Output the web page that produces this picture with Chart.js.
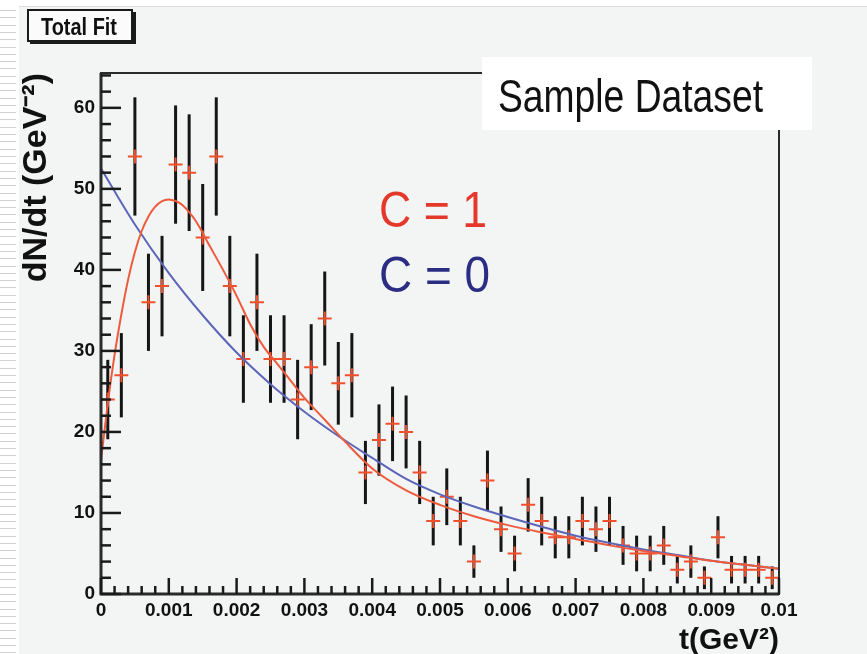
<!DOCTYPE html>
<html lang="en">
<head>
<meta charset="UTF-8">
<title>Total Fit</title>
<script src="https://cdn.jsdelivr.net/npm/chart.js"></script>
<style>
  html, body { margin: 0; padding: 0; background: #f3f5f5; }
  #wrap { width: 867px; height: 654px; }
</style>
</head>
<body>
<div id="wrap"><canvas id="fitChart" width="867" height="654"></canvas></div>
<script>
// histogram bins (bin centre in GeV^2), counts and their errors
const binCenters = [0.0001, 0.0003, 0.0005, 0.0007, 0.0009, 0.0011, 0.0013, 0.0015, 0.0017, 0.0019,
                    0.0021, 0.0023, 0.0025, 0.0027, 0.0029, 0.0031, 0.0033, 0.0035, 0.0037, 0.0039,
                    0.0041, 0.0043, 0.0045, 0.0047, 0.0049, 0.0051, 0.0053, 0.0055, 0.0057, 0.0059,
                    0.0061, 0.0063, 0.0065, 0.0067, 0.0069, 0.0071, 0.0073, 0.0075, 0.0077, 0.0079,
                    0.0081, 0.0083, 0.0085, 0.0087, 0.0089, 0.0091, 0.0093, 0.0095, 0.0097, 0.0099];
const counts = [24, 27, 54, 36, 38, 53, 52, 44, 54, 38,
                29, 36, 29, 29, 24, 28, 34, 26, 27, 15,
                19, 21, 20, 15, 9, 12, 9, 4, 14, 8,
                5, 11, 9, 7, 7, 9, 8, 9, 6, 5,
                5, 6, 3, 4, 2, 7, 3, 3, 3, 2];
const errors = [4.9, 5.2, 7.3, 6.0, 6.2, 7.3, 7.2, 6.6, 7.3, 6.2,
                5.4, 6.0, 5.4, 5.4, 4.9, 5.3, 5.8, 5.1, 5.2, 3.9,
                4.4, 4.6, 4.5, 3.9, 3.0, 3.5, 3.0, 2.0, 3.7, 2.8,
                2.2, 3.3, 3.0, 2.6, 2.6, 3.0, 2.8, 3.0, 2.4, 2.2,
                2.2, 2.4, 1.7, 2.0, 1.4, 2.6, 1.7, 1.7, 1.7, 1.4];

// fit curve C = 1 (red)
const fitC1T = [0, 0.0001, 0.0002, 0.0003, 0.0004, 0.0005, 0.0006, 0.0007, 0.0008, 0.0009,
                0.001, 0.0011, 0.0012, 0.0014, 0.0016, 0.0018, 0.002, 0.0022, 0.0024, 0.0026,
                0.0028, 0.003, 0.0033, 0.0036, 0.004, 0.0045, 0.005, 0.0055, 0.006, 0.0065,
                0.007, 0.0075, 0.008, 0.0085, 0.009, 0.0095, 0.01];
const fitC1Y = [16.5, 23.5, 29.5, 34.5, 38.8, 42.2, 44.8, 46.6, 47.8, 48.5,
                48.7, 48.5, 48.0, 46.0, 43.0, 40.0, 36.8, 33.3, 30.5, 28.4,
                26.3, 24.2, 21.5, 18.8, 15.5, 12.8, 11.0, 9.6, 8.5, 7.6,
                6.8, 6.0, 5.3, 4.7, 4.1, 3.6, 3.1];

// fit curve C = 0 (blue)
const fitC0T = [0, 0.0005, 0.001, 0.0015, 0.002, 0.0025, 0.003, 0.0035, 0.004, 0.0045,
                0.005, 0.0055, 0.006, 0.0065, 0.007, 0.0075, 0.008, 0.0085, 0.009, 0.0095, 0.01];
const fitC0Y = [52.5, 45.6, 39.6, 34.4, 29.8, 25.9, 22.5, 19.5, 16.8, 14.2,
                12.3, 10.8, 9.5, 8.3, 7.2, 6.3, 5.5, 4.8, 4.1, 3.6, 3.1];

const xTickValues = [0, 0.001, 0.002, 0.003, 0.004, 0.005, 0.006, 0.007, 0.008, 0.009, 0.01];
const xTickLabels = ['0', '0.001', '0.002', '0.003', '0.004', '0.005', '0.006', '0.007', '0.008', '0.009', '0.01'];
const yTickValues = [0, 10, 20, 30, 40, 50, 60];
const yTickLabels = ['0', '10', '20', '30', '40', '50', '60'];

const SANS = "'Liberation Sans', Arial, sans-serif";
const RED = '#f2502c';

const toPts = (xs, ys) => xs.map((x, i) => ({ x: x, y: ys[i] }));

// draw text squeezed horizontally to a given width (the reference uses a narrow face)
function fittedText(ctx, text, x, y, width, font, color) {
    ctx.save();
    ctx.font = font;
    ctx.fillStyle = color;
    ctx.textAlign = 'left';
    ctx.textBaseline = 'alphabetic';
    const w = ctx.measureText(text).width;
    ctx.translate(x, y);
    ctx.scale(width / w, 1);
    ctx.fillText(text, 0, 0);
    ctx.restore();
}

// ROOT-like frame, inside ticks, error bars and the text boxes
const rootDecor = {
    id: 'rootDecor',
    beforeDraw(chart) {
        const ctx = chart.ctx;
        ctx.save();
        ctx.fillStyle = '#f3f5f5';
        ctx.fillRect(0, 0, chart.width, chart.height);
        ctx.fillStyle = '#ffffff';
        ctx.fillRect(0, 0, chart.width, 6);
        ctx.fillRect(0, 0, 19, chart.height);
        ctx.strokeStyle = '#d2d2d2';
        ctx.lineWidth = 1;
        for (let y = 10; y < chart.height; y += 7.3) {
            ctx.beginPath();
            ctx.moveTo(0, Math.round(y) + 0.5);
            ctx.lineTo(16, Math.round(y) + 0.5);
            ctx.stroke();
        }
        ctx.strokeStyle = '#dedede';
        ctx.beginPath();
        ctx.moveTo(19, 6.5);
        ctx.lineTo(chart.width, 6.5);
        ctx.stroke();
        ctx.restore();
    },
    beforeDatasetsDraw(chart) {
        const ctx = chart.ctx;
        const xs = chart.scales.x, ys = chart.scales.y;
        ctx.save();
        ctx.strokeStyle = '#151515';
        ctx.lineWidth = 3;
        binCenters.forEach((t, i) => {
            const px = xs.getPixelForValue(t);
            ctx.beginPath();
            ctx.moveTo(px, ys.getPixelForValue(counts[i] - errors[i]));
            ctx.lineTo(px, ys.getPixelForValue(counts[i] + errors[i]));
            ctx.stroke();
        });
        ctx.restore();
    },
    afterDraw(chart) {
        const ctx = chart.ctx;
        const a = chart.chartArea;
        const xs = chart.scales.x, ys = chart.scales.y;
        ctx.save();

        // frame
        ctx.strokeStyle = '#2a2a2a';
        ctx.lineWidth = 2;
        ctx.strokeRect(a.left, a.top, a.right - a.left, a.bottom - a.top);
        ctx.lineWidth = 3;
        ctx.beginPath();
        ctx.moveTo(a.left, a.top);
        ctx.lineTo(a.left, a.bottom);
        ctx.lineTo(a.right, a.bottom);
        ctx.stroke();

        // inside ticks
        ctx.lineWidth = 2.5;
        ctx.strokeStyle = '#1a1a1a';
        for (let k = 0; k <= 32; k++) {
            const py = ys.getPixelForValue(k * 2);
            const len = (k % 5 === 0) ? 20 : 10;
            ctx.beginPath();
            ctx.moveTo(a.left, py);
            ctx.lineTo(a.left + len, py);
            ctx.stroke();
        }
        for (let k = 0; k <= 50; k++) {
            const px = xs.getPixelForValue(k * 0.0002);
            const len = (k % 5 === 0) ? 16 : 8;
            ctx.beginPath();
            ctx.moveTo(px, a.bottom);
            ctx.lineTo(px, a.bottom - len);
            ctx.stroke();
        }

        // "Total Fit" box with shadow
        ctx.fillStyle = '#1a1a1a';
        ctx.fillRect(30, 12, 106, 32);
        ctx.fillStyle = '#fbfbfb';
        ctx.fillRect(28, 10, 104, 31);
        ctx.strokeStyle = '#1a1a1a';
        ctx.lineWidth = 2;
        ctx.strokeRect(28, 10, 104, 31);
        fittedText(ctx, 'Total Fit', 41, 35, 76, 'bold 24px ' + SANS, '#111');

        // "Sample Dataset" box
        ctx.fillStyle = '#ffffff';
        ctx.fillRect(482, 57, 330, 73);
        fittedText(ctx, 'Sample Dataset', 498, 112, 265, '46px ' + SANS, '#111');

        // curve labels
        fittedText(ctx, 'C = 1', 379, 227, 108, '50px ' + SANS, '#e4392a');
        fittedText(ctx, 'C = 0', 379, 292, 111, '50px ' + SANS, '#2b2d82');
        ctx.restore();
    }
};

const ctx = document.getElementById('fitChart').getContext('2d');
const fitChart = new Chart(ctx, {
    type: 'scatter',
    data: {
        datasets: [
            {
                label: 'C = 1',
                data: toPts(fitC1T, fitC1Y),
                showLine: true,
                borderColor: '#ee5a3c',
                borderWidth: 2,
                pointRadius: 0,
                cubicInterpolationMode: 'monotone'
            },
            {
                label: 'C = 0',
                data: toPts(fitC0T, fitC0Y),
                showLine: true,
                borderColor: '#5b66b8',
                borderWidth: 2,
                pointRadius: 0,
                cubicInterpolationMode: 'monotone'
            },
            {
                label: 'Sample Dataset',
                data: toPts(binCenters, counts),
                pointStyle: 'cross',
                pointRadius: 7,
                borderColor: RED,
                borderWidth: 2,
                backgroundColor: RED
            }
        ]
    },
    options: {
        responsive: false,
        animation: false,
        layout: { padding: { left: 0, top: 73, right: 88, bottom: 0 } },
        plugins: {
            legend: { display: false },
            tooltip: { enabled: false }
        },
        scales: {
            x: {
                type: 'linear',
                min: 0,
                max: 0.01,
                grid: { display: false, drawTicks: false },
                border: { display: false },
                afterBuildTicks: s => { s.ticks = xTickValues.map(v => ({ value: v })); },
                afterFit: s => { s.height = 60; },
                ticks: {
                    autoSkip: false,
                    maxRotation: 0,
                    padding: 5,
                    color: '#111',
                    font: { family: SANS, size: 19, weight: 'bold' },
                    callback: (v, i) => xTickLabels[i]
                },
                title: {
                    display: true,
                    text: 't(GeV²)',
                    align: 'end',
                    color: '#111',
                    padding: 0,
                    font: { family: SANS, size: 30, weight: 'bold', lineHeight: 0.9 }
                }
            },
            y: {
                type: 'linear',
                min: 0,
                max: 64.3,
                grid: { display: false, drawTicks: false },
                border: { display: false },
                afterBuildTicks: s => { s.ticks = yTickValues.map(v => ({ value: v })); },
                afterFit: s => { s.width = 101; },
                ticks: {
                    padding: 6,
                    color: '#111',
                    font: { family: SANS, size: 19, weight: 'bold' },
                    callback: (v, i) => yTickLabels[i]
                },
                title: {
                    display: true,
                    text: 'dN/dt (GeV⁻²)',
                    align: 'end',
                    color: '#111',
                    padding: { top: 16, bottom: 0 },
                    font: { family: SANS, size: 34, weight: 'bold' }
                }
            }
        }
    },
    plugins: [rootDecor]
});
</script>
</body>
</html>
